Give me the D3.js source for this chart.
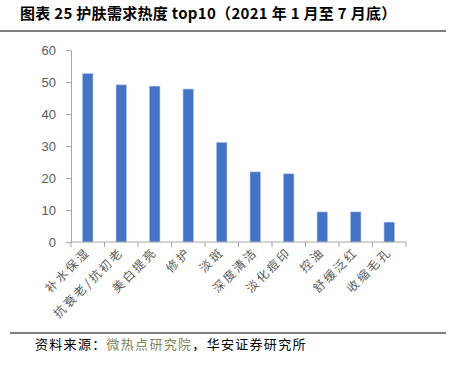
<!DOCTYPE html>
<html>
<head>
<meta charset="utf-8">
<script src="https://cdn.jsdelivr.net/npm/d3@7"></script>
<style>
  body { margin: 0; background: #fff; }
  svg { display: block; }
</style>
</head>
<body>
<svg width="452" height="365"></svg>
<script>
var categories = ["补水保湿", "抗衰老/抗初老", "美白提亮", "修护", "淡斑", "深度清洁", "淡化痘印", "控油", "舒缓泛红", "收缩毛孔"];
var values = [52.6, 49.1, 48.7, 47.8, 31.1, 21.9, 21.3, 9.4, 9.4, 6.2];
var yTicks = [0, 10, 20, 30, 40, 50, 60];

var svg = d3.select("svg"),
    margin = {top: 50, right: 46, bottom: 123, left: 71},
    width = +svg.attr("width") - margin.left - margin.right,
    height = +svg.attr("height") - margin.top - margin.bottom;

var cjk = "'Noto Sans CJK SC', sans-serif";

// title
svg.append("text")
    .attr("x", 20)
    .attr("y", 19)
    .attr("font-family", cjk)
    .attr("font-weight", "bold")
    .attr("font-size", 15)
    .attr("letter-spacing", 0.3)
    .attr("fill", "#000")
    .text("图表 25 护肤需求热度 top10（2021 年 1 月至 7 月底）");

svg.append("line")
    .attr("x1", 0).attr("x2", 446)
    .attr("y1", 31).attr("y2", 31)
    .attr("stroke", "#000").attr("stroke-width", 1);

var x = d3.scaleBand().domain(categories).range([0, width]).paddingInner(0.69).paddingOuter(0.345),
    y = d3.scaleLinear().domain([0, 60]).range([height, 0]);

var g = svg.append("g")
    .attr("transform", "translate(" + margin.left + "," + margin.top + ")");

// bars
g.selectAll(".bar")
  .data(values)
  .enter().append("rect")
    .attr("class", "bar")
    .attr("x", function(d, i) { return x(categories[i]); })
    .attr("y", function(d) { return y(d); })
    .attr("width", x.bandwidth())
    .attr("height", function(d) { return height - y(d); })
    .attr("fill", "#4472C4")
    .attr("stroke", "#a9bde3")
    .attr("stroke-width", 0.6);

// y axis
var yAxis = g.append("g")
    .call(d3.axisLeft(y).tickValues(yTicks).tickSize(5).tickSizeOuter(0));
yAxis.select(".domain").attr("stroke", "#a6a6a6");
yAxis.selectAll(".tick line").attr("stroke", "#a6a6a6");
yAxis.selectAll(".tick text")
    .attr("x", -15)
    .attr("fill", "#595959")
    .attr("font-family", "Arial, 'Liberation Sans', sans-serif")
    .attr("font-size", 13);

// x axis, ticks sit on band edges
var edges = d3.range(categories.length + 1).map(function(i) { return i * x.step(); });
var xg = g.append("g").attr("transform", "translate(0," + height + ")");
xg.append("line")
    .attr("x1", 0).attr("x2", width)
    .attr("stroke", "#a6a6a6");
xg.selectAll(".etick")
  .data(edges)
  .enter().append("line")
    .attr("class", "etick")
    .attr("x1", function(d) { return d; })
    .attr("x2", function(d) { return d; })
    .attr("y1", 0).attr("y2", 5)
    .attr("stroke", "#a6a6a6");

xg.selectAll(".xlab")
  .data(categories)
  .enter().append("text")
    .attr("class", "xlab")
    .attr("transform", function(d) {
      return "translate(" + (x(d) + x.bandwidth() / 2 + 3) + ",11) rotate(-45)";
    })
    .attr("text-anchor", "end")
    .attr("font-family", cjk)
    .attr("font-size", 12)
    .attr("letter-spacing", 2.3)
    .attr("fill", "#595959")
    .text(function(d) { return d; });

// footer
svg.append("line")
    .attr("x1", 10).attr("x2", 446)
    .attr("y1", 333).attr("y2", 333)
    .attr("stroke", "#000").attr("stroke-width", 1);

var src = svg.append("text")
    .attr("x", 35)
    .attr("y", 349)
    .attr("font-family", cjk)
    .attr("font-size", 13)
    .attr("letter-spacing", 1.3)
    .attr("fill", "#000");
src.append("tspan").text("资料来源：");
src.append("tspan").attr("fill", "#7f7f5a").text("微热点研究院");
src.append("tspan").text("，华安证券研究所");
</script>
</body>
</html>
